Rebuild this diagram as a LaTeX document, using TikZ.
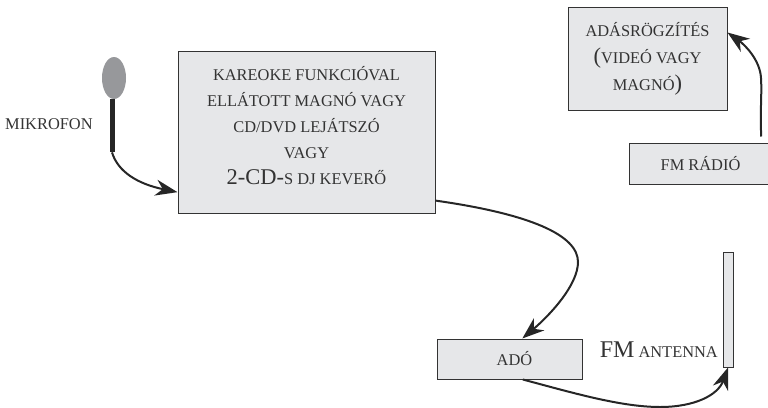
\documentclass[tikz,border=0pt]{standalone}
\usepackage{fontspec}
\setmainfont{Liberation Serif}
\usetikzlibrary{arrows.meta, shapes.geometric}
\definecolor{boxgray}{HTML}{E6E7E9}
\definecolor{micgray}{HTML}{97989B}
\definecolor{inkgray}{HTML}{333333}
\newcommand{\lblfont}{\fontsize{16.4}{26}\selectfont}
\newcommand{\bigfont}{\fontsize{22.5}{26}\selectfont}

\begin{document}
\begin{tikzpicture}[x=1pt, y=-1pt,
        box/.style={rectangle, draw=inkgray, fill=boxgray, line width=1pt, inner sep=0pt, text=inkgray, align=center, font=\lblfont},
        textlabel/.style={text=inkgray, inner sep=0pt, align=center, font=\lblfont},
        link/.style={-{Stealth[length=22pt, width=16pt, inset=7pt]}, line width=2pt, black!85}]
      \useasboundingbox (0,0) rectangle (768,407);
      % Boxes
      \node[box, minimum width=257pt, minimum height=162pt] (mixer) at (306.5,132) {KAREOKE FUNKCIÓVAL\\ELLÁTOTT MAGNÓ VAGY\\CD/DVD LEJÁTSZÓ\\VAGY\\{\bigfont 2-CD-}S DJ KEVERŐ\\[-12pt]};
      \node[box, minimum width=159pt, minimum height=103pt] (rec) at (647.5,58.5) {ADÁSRÖGZÍTÉS\\[1pt]{\bigfont (}VIDEÓ VAGY\\[1pt]MAGNÓ{\bigfont )}};
      \node[box, minimum width=143pt, minimum height=41pt] (radio) at (700.5,163.5) {FM RÁDIÓ};
      \node[box, minimum width=145pt, minimum height=40pt] (ado) at (509.5,359) {\hspace*{10pt}ADÓ};
      \node[box, minimum width=10pt, minimum height=115pt] (ant) at (728,309.5) {};

      % Microphone
      \node[ellipse, fill=micgray, minimum width=24pt, minimum height=42pt, inner sep=0pt] (head) at (114,78) {};
      \node[rectangle, fill=black!85, minimum width=5pt, minimum height=53pt, inner sep=0pt, anchor=north] (stem) at (112,99) {};

      % Labels
      \node[textlabel, anchor=west] (mic) at (5,124) {MIKROFON};
      \node[textlabel, anchor=east] (antlabel) at (718,350) {{\fontsize{24}{26}\selectfont FM} ANTENNA};

      % Flow
      \draw[link] (stem.south) .. controls (118,172) and (138,184) .. (mixer.205);
      \draw[link] (mixer.-28) .. controls (530,214) and (578,235) .. (578,262) .. controls (578,285) and (550,315) .. (ado.58);
      \draw[link] (ado.-57) .. controls (570,392) and (620,407) .. (660,407) .. controls (695,407) and (718,395) .. (ant.south);
      \draw[link, shorten <=6pt] (radio.19) .. controls (760,110) and (762,95) .. (761,78) .. controls (760,60) and (745,45) .. (rec.18);
    \end{tikzpicture}
\end{document}
